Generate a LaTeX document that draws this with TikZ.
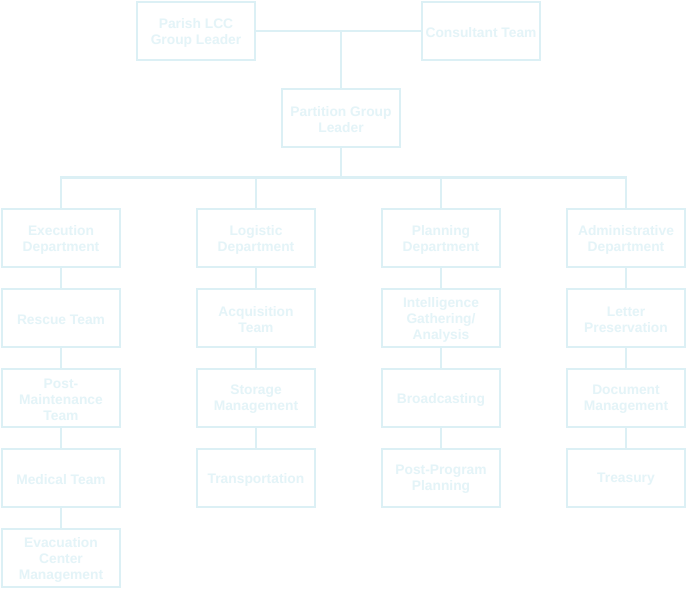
\documentclass[tikz,border=0pt]{standalone}
\usepackage{fontspec}
\setmainfont{Liberation Sans}
\definecolor{edgec}{RGB}{220,240,245}
\definecolor{textc}{RGB}{228,244,248}
\newcommand{\bx}[3]{%
  \node[box] (#1) at #2 {};
  \node[lab] (#1-t) at ([yshift=-1.5pt]#1.center) {#3};}
\begin{document}
\begin{tikzpicture}[x=1pt,y=-1pt,
  box/.style={draw=edgec,line width=2.8pt,minimum width=118pt,minimum height=58pt,
    inner sep=0pt,fill=white},
  lab/.style={inner sep=0pt,align=center,text=textc,font=\fontsize{13.8}{16}\selectfont\bfseries},
  conn/.style={draw=edgec,line width=2.8pt}]
\useasboundingbox (0,0) rectangle (688,591);
\fill[white] (0,0) rectangle (688,591);
% top
\bx{parish}{(196,31)}{Parish LCC\\Group Leader}
\bx{cons}{(481,31)}{Consultant Team}
\bx{part}{(341,118)}{Partition Group\\Leader}
% departments
\bx{exe}{(61,238)}{Execution\\Department}
\bx{log}{(256,238)}{Logistic\\Department}
\bx{plan}{(441,238)}{Planning\\Department}
\bx{adm}{(626,238)}{Administrative\\Department}
% execution column
\bx{e1}{(61,318)}{Rescue Team}
\bx{e2}{(61,398)}{Post-\\Maintenance\\Team}
\bx{e3}{(61,478)}{Medical Team}
\bx{e4}{(61,558)}{Evacuation\\Center\\Management}
% logistic column
\bx{l1}{(256,318)}{Acquisition\\Team}
\bx{l2}{(256,398)}{Storage\\Management}
\bx{l3}{(256,478)}{Transportation}
% planning column
\bx{p1}{(441,318)}{Intelligence\\Gathering/\\Analysis}
\bx{p2}{(441,398)}{Broadcasting}
\bx{p3}{(441,478)}{Post-Program\\Planning}
% admin column
\bx{a1}{(626,318)}{Letter\\Preservation}
\bx{a2}{(626,398)}{Document\\Management}
\bx{a3}{(626,478)}{Treasury}
% connectors
\coordinate (tj) at (341,31);
\coordinate (bus) at (341,178);
\draw[conn] (parish.east) -- (cons.west);
\draw[conn] (tj) -- (part.north);
\draw[conn] (part.south) -- (bus);
\draw[conn] (exe.north) -- ++(0,-30) -| (adm.north);
\draw[conn] (log.north) -- ++(0,-30);
\draw[conn] (plan.north) -- ++(0,-30);
\foreach \a/\b in {exe/e1,e1/e2,e2/e3,e3/e4,log/l1,l1/l2,l2/l3,plan/p1,p1/p2,p2/p3,adm/a1,a1/a2,a2/a3}
  \draw[conn] (\a.south) -- (\b.north);
\end{tikzpicture}
\end{document}
